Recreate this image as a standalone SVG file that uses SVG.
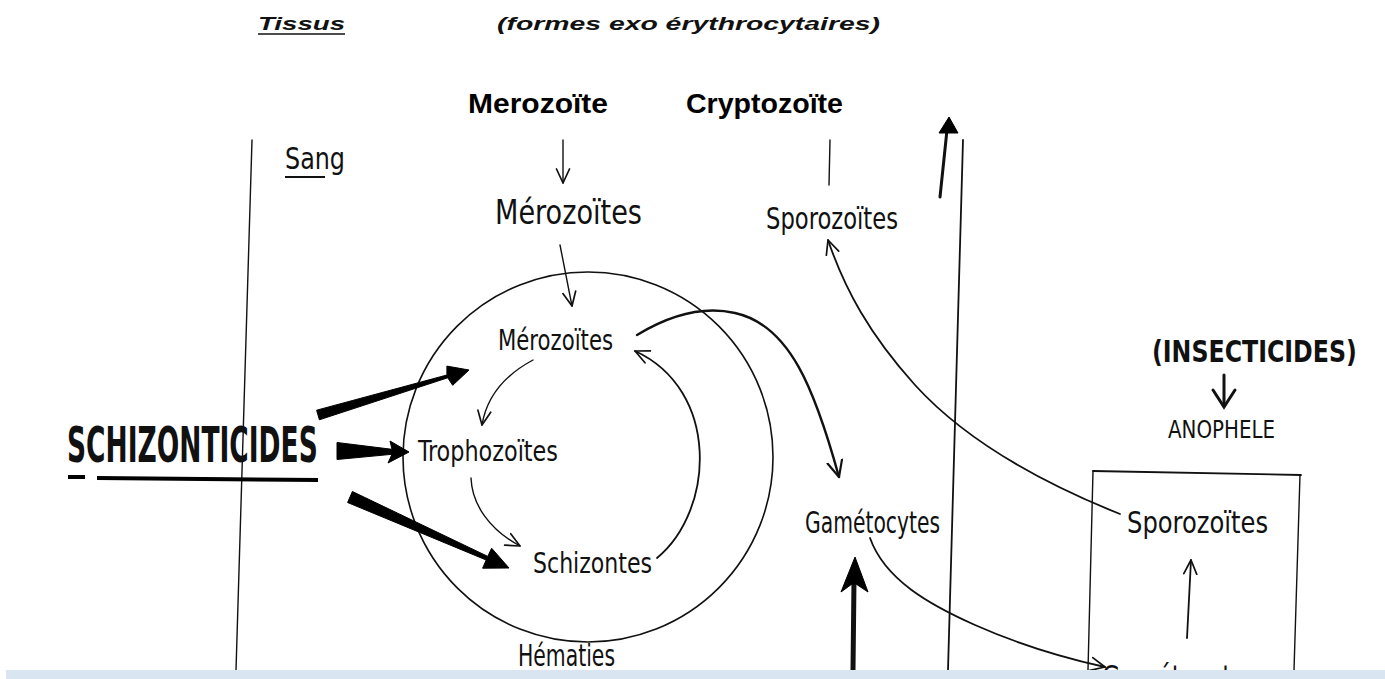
<svg xmlns="http://www.w3.org/2000/svg" width="1385" height="679" viewBox="0 0 1385 679">
<defs>
<style>
.hw{font-family:"DejaVu Sans","Liberation Sans",sans-serif;font-stretch:condensed;fill:#111}
.ttl{font-family:"Liberation Sans",Arial,sans-serif;font-weight:bold;font-style:italic;fill:#111}
.big{font-family:"Liberation Sans",Arial,sans-serif;font-weight:bold;fill:#000}
.ln{fill:none;stroke:#111;stroke-linecap:round}
.thin{stroke-width:1.4}
.mid{stroke-width:1.8}
.thick{stroke-width:2.4}
.solid{fill:#000;stroke:#000;stroke-width:1;stroke-linejoin:round}
</style>
<marker id="ah" viewBox="0 0 16 16" refX="15" refY="8" markerWidth="16" markerHeight="16" markerUnits="userSpaceOnUse" orient="auto">
<path d="M1,1.5 L15,8 L1,14.5" fill="none" stroke="#111" stroke-width="1.7" stroke-linecap="round" stroke-linejoin="round"/>
</marker>
<marker id="ahb" viewBox="0 0 18 18" refX="17" refY="9" markerWidth="18" markerHeight="18" markerUnits="userSpaceOnUse" orient="auto">
<path d="M1,1.5 L17,9 L1,16.5" fill="none" stroke="#111" stroke-width="2.2" stroke-linecap="round" stroke-linejoin="round"/>
</marker>
</defs>
<rect width="1385" height="679" fill="#fff"/>

<g id="titles">
<text class="ttl" x="258" y="30" font-size="18" textLength="87" lengthAdjust="spacingAndGlyphs">Tissus</text>
<line x1="258" y1="34" x2="345" y2="34" stroke="#111" stroke-width="1.6"/>
<text class="ttl" x="497" y="30" font-size="18" textLength="383" lengthAdjust="spacingAndGlyphs">(formes exo érythrocytaires)</text>
<text class="big" x="468" y="113" font-size="27" textLength="140" lengthAdjust="spacingAndGlyphs">Merozoïte</text>
<text class="big" x="686" y="113" font-size="27" textLength="157" lengthAdjust="spacingAndGlyphs">Cryptozoïte</text>
</g>

<g id="frame">
<line class="ln thin" x1="252" y1="140" x2="236" y2="670"/>
<line class="ln thin" x1="830" y1="140" x2="829" y2="185"/>
<line class="ln mid" x1="963" y1="140" x2="948" y2="670"/>
<path class="ln mid" d="M1093,471 L1301,475"/>
<path class="ln thin" d="M1093,471 L1088,670"/>
<path class="ln thin" d="M1300,475 L1294,670"/>
</g>

<g id="label-sang">
<text class="hw" x="285" y="169" font-size="31" textLength="60" lengthAdjust="spacingAndGlyphs">Sang</text>
<line x1="285" y1="177" x2="325" y2="177" stroke="#111" stroke-width="2"/>
</g>

<g id="hematie">
<circle cx="588" cy="457" r="185" fill="none" stroke="#111" stroke-width="1.6"/>
<text class="hw" x="518" y="666" font-size="30" textLength="97" lengthAdjust="spacingAndGlyphs">Hématies</text>
</g>

<g id="node-merozoites-top"><text class="hw" x="495" y="224" font-size="34" textLength="147" lengthAdjust="spacingAndGlyphs">Mérozoïtes</text></g>
<g id="node-merozoites"><text class="hw" x="498" y="350" font-size="28" textLength="115" lengthAdjust="spacingAndGlyphs">Mérozoïtes</text></g>
<g id="node-trophozoites"><text class="hw" x="418" y="461" font-size="28" textLength="140" lengthAdjust="spacingAndGlyphs">Trophozoïtes</text></g>
<g id="node-schizontes"><text class="hw" x="533" y="573" font-size="28" textLength="119" lengthAdjust="spacingAndGlyphs">Schizontes</text></g>
<g id="node-sporozoites-top"><text class="hw" x="766" y="229" font-size="30" textLength="132" lengthAdjust="spacingAndGlyphs">Sporozoïtes</text></g>
<g id="node-gametocytes"><text class="hw" x="805" y="533" font-size="30" textLength="135" lengthAdjust="spacingAndGlyphs">Gamétocytes</text></g>
<g id="node-insecticides"><text class="hw" transform="translate(1152,362) scale(0.8,1)" font-size="31" font-weight="bold" textLength="256" lengthAdjust="spacingAndGlyphs">(INSECTICIDES)</text></g>
<g id="node-anophele"><text class="hw" x="1168" y="438" font-size="24" textLength="107" lengthAdjust="spacingAndGlyphs">ANOPHELE</text></g>
<g id="node-sporozoites-box"><text class="hw" x="1127" y="533" font-size="31" textLength="141" lengthAdjust="spacingAndGlyphs">Sporozoïtes</text></g>
<g id="node-gametocytes-box"><text class="hw" x="1102" y="688" font-size="32" textLength="156" lengthAdjust="spacingAndGlyphs">Gamétocytes</text></g>
<g id="node-schizonticides">
<text class="hw" transform="translate(67,462) scale(0.6,1)" font-size="50" font-weight="bold" textLength="418" lengthAdjust="spacingAndGlyphs">SCHIZONTICIDES</text>
<line x1="68" y1="477" x2="85" y2="477" stroke="#000" stroke-width="4"/>
<line x1="97" y1="478" x2="318" y2="480" stroke="#000" stroke-width="4"/>
</g>

<g id="connectors">
<path class="ln thin" d="M563,140 L563,183" marker-end="url(#ah)"/>
<path class="ln thin" d="M560,245 L572,306" marker-end="url(#ah)"/>
<path class="ln thin" d="M533,360 C505,375 487,395 482,425" marker-end="url(#ah)"/>
<path class="ln thin" d="M471,478 C472,505 490,530 520,546" marker-end="url(#ah)"/>
<path class="ln mid" d="M657,558 C715,510 720,390 635,351" marker-end="url(#ah)"/>
<path class="ln thick" d="M637,335 C665,318 700,305 735,313 C790,325 815,390 839,477" marker-end="url(#ahb)"/>
<path class="ln mid" d="M1120,514 C1040,482 965,440 915,385 C870,335 845,290 828,240" marker-end="url(#ah)"/>
<path class="ln mid" d="M870,538 C885,580 930,605 975,625 C1020,645 1060,657 1105,667" marker-end="url(#ah)"/>
<path class="ln mid" d="M1187,638 L1191,560" marker-end="url(#ah)"/>
<polygon class="solid" points="316.6,410.2 446.9,375 446.9,366.1 469,370 452.7,385.3 447.7,377.8 319.4,419.8"/>
<polygon class="solid" points="337,442.5 392,449.3 390,441 409,452 388,463 392,454.3 337,459.5"/>
<polygon class="solid" points="352.4,491.5 487.8,556.4 491.6,548.2 509,568 482.6,568.2 486.2,560 347.6,502.5"/>
<path class="ln" stroke-width="3" d="M1224,375 L1224,406"/>
<path class="ln" stroke-width="3" d="M1213,390 L1224,407 L1235,390"/>
<path class="ln" stroke-width="5" d="M853,670 L854,580"/>
<polygon class="solid" points="855,557 868,592 856,584 852,584 841,592"/>
<path class="ln" stroke-width="3" d="M940,197 L947,130"/>
<polygon class="solid" points="949,117 939,133 958,133"/>
</g>

<rect x="6" y="670" width="1379" height="9" fill="#dae5f2"/>
</svg>
